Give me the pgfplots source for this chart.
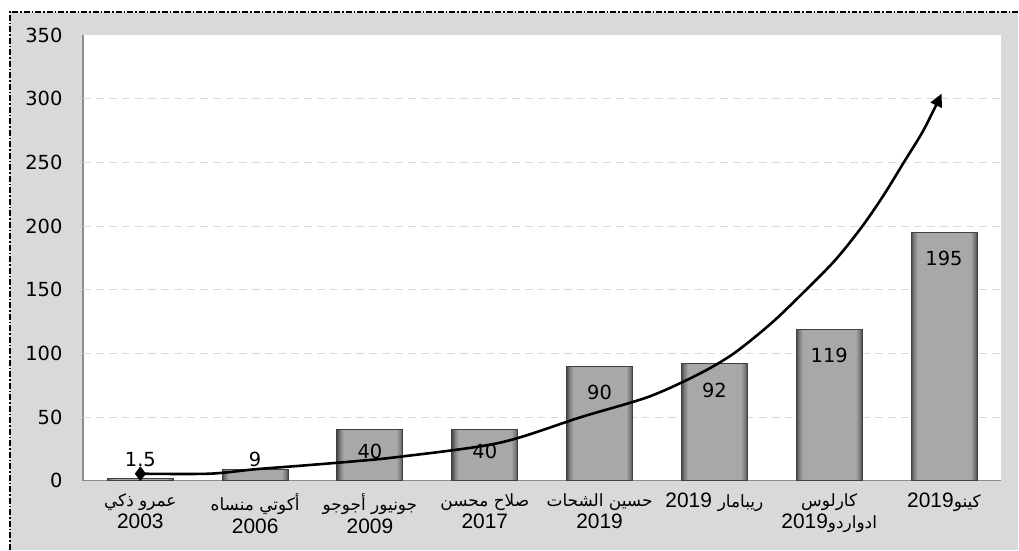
\documentclass[border=0pt]{standalone}
\usepackage{fontspec}
\setmainfont{DejaVu Sans}
\newfontfamily\arabicfont[Script=Arabic]{DejaVu Sans}
\newfontfamily\arialfont{Liberation Sans}
\usepackage{pgfplots}
\pgfplotsset{compat=1.18}
\usetikzlibrary{arrows.meta}
\TeXXeTstate=1
\newcommand{\arf}{\arabicfont\fontsize{17}{23}\selectfont}
\definecolor{bggray}{HTML}{D9D9D9}
\pgfdeclarehorizontalshading{bevel}{100bp}{color(0bp)=(black!72); color(25bp)=(black!72); color(27bp)=(black!52); color(30bp)=(black!34); color(70bp)=(black!34); color(73bp)=(black!52); color(75bp)=(black!72); color(100bp)=(black!72)}
\pgfplotsset{barstyle/.style={ybar, bar width=0.575, bar shift=0pt, draw=black!75, line width=1bp, shade, shading=bevel}}
\begin{document}
\begin{tikzpicture}
\fill[white] (-83bp,-69bp) rectangle (936bp,481bp);
\fill[bggray] (-73bp,-69bp) rectangle (936bp,469bp);
\draw[black, line width=1.2bp, dash pattern=on 6bp off 2bp on 1.5bp off 2bp] (-73bp,-69bp) -- (-73bp,469bp) -- (936bp,469bp);
\begin{axis}[
  at={(0,0)}, anchor=south west,
  scale only axis, width=919bp, height=446bp,
  xmin=-0.5, xmax=7.5, ymin=0, ymax=350,
  ytick={0,50,...,350},
  xtick={0,...,7},
  axis x line*=bottom, axis y line*=left,
  axis line style={-, draw=black!45, line width=1.3bp},
  major tick length=0pt,
  extra y ticks={50,100,...,300}, extra y tick labels={},
  extra y tick style={grid=major},
  grid style={draw=black!15, line width=1bp, dash pattern=on 8bp off 5bp},
  axis background/.style={fill=white},
  /pgf/number format/assume math mode=true,
  yticklabel style={font=\fontsize{19.5}{22}\selectfont, xshift=-17bp},
  xticklabel style={font=\fontsize{21}{23}\selectfont\arialfont, align=center, anchor=north, yshift=-9bp},
  xticklabels={
    {{\arf\beginR عمرو ذكي\endR}\\2003},
    {{\arf\beginR أكوتي منساه\endR}\\2006},
    {{\arf\beginR جونيور أجوجو\endR}\\2009},
    {{\arf\beginR صلاح محسن\endR}\\2017},
    {{\arf\beginR حسين الشحات\endR}\\2019},
    {2019 {\arf\beginR ريبامار\endR}},
    {{\arf\beginR كارلوس\endR}\\2019{\arf\beginR ادواردو\endR}},
    {2019{\arf\beginR كينو\endR}}
  },
]
\addplot[barstyle] coordinates {(0,1.5)};
\addplot[barstyle] coordinates {(1,9)};
\addplot[barstyle] coordinates {(2,40)};
\addplot[barstyle] coordinates {(3,40)};
\addplot[barstyle] coordinates {(4,90)};
\addplot[barstyle] coordinates {(5,92)};
\addplot[barstyle] coordinates {(6,119)};
\addplot[barstyle] coordinates {(7,195)};
\addplot[black, line width=2.6bp, smooth, tension=0.5, -{Triangle[length=13bp,width=12bp]}]
  coordinates {(0,5.5)(0.6,5.5)(1,9)(1.4,11.8)(1.82,14.9)(2.26,18.8)(3.13,29.8)(3.84,50)(4.43,66)(4.87,84)(5.17,100)(5.5,124)(5.80,150)(6.06,174)(6.29,200)(6.48,225)(6.65,250)(6.82,275)(6.98,304)};
\addplot[only marks, mark=diamond*, mark size=7bp, black] coordinates {(0,5.5)};
\addplot[draw=none, mark=none, nodes near coords, point meta=explicit symbolic,
  nodes near coords style={anchor=center, font=\fontsize{19.5}{22}\selectfont, inner sep=0pt}]
  coordinates {(0,16.5)[1.5] (1,16.5)[9] (2,23)[40] (3,23)[40] (4,69.5)[90] (5,71)[92] (6,98.5)[119] (7,174.5)[195]};
\end{axis}
\end{tikzpicture}
\end{document}
